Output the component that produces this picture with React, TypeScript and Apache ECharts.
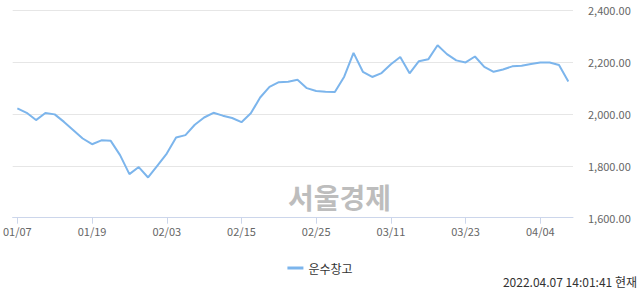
import React, { useEffect, useRef } from "react";
import * as echarts from "echarts";

const categories: string[] = [
  "01/07", "01/10", "01/11", "01/12", "01/13", "01/14", "01/17", "01/18", "01/19", "01/20",
  "01/21", "01/24", "01/25", "01/26", "01/27", "01/28", "02/03", "02/04", "02/07", "02/08",
  "02/09", "02/10", "02/11", "02/14", "02/15", "02/16", "02/17", "02/18", "02/21", "02/22",
  "02/23", "02/24", "02/25", "02/28", "03/02", "03/03", "03/04", "03/07", "03/08", "03/10",
  "03/11", "03/14", "03/15", "03/16", "03/17", "03/18", "03/21", "03/22", "03/23", "03/24",
  "03/25", "03/28", "03/29", "03/30", "03/31", "04/01", "04/04", "04/05", "04/06", "04/07",
];

const values: number[] = [
  2021, 2004, 1976, 2003, 1998, 1969, 1937, 1905, 1883, 1898,
  1896, 1841, 1768, 1795, 1755, 1801, 1847, 1909, 1918, 1958,
  1986, 2004, 1993, 1984, 1968, 2002, 2063, 2104, 2122, 2124,
  2131, 2099, 2088, 2085, 2084, 2143, 2235, 2162, 2142, 2157,
  2191, 2219, 2156, 2203, 2210, 2264, 2230, 2206, 2198, 2221,
  2181, 2162, 2171, 2183, 2185, 2192, 2198, 2198, 2188, 2125,
];

const seriesName = "운수창고";
const yTicks: number[] = [1600, 1800, 2000, 2200, 2400];
const watermark = "서울경제";
const timestamp = "2022.04.07 14:01:41 현재";

export default function App() {
  const ref = useRef<HTMLDivElement>(null);
  useEffect(() => {
    if (!ref.current) return;
    const chart = echarts.init(ref.current, undefined, { renderer: "svg" });
    const font = "'Noto Sans CJK KR', 'Noto Sans', sans-serif";
    chart.setOption({
      animation: false,
      backgroundColor: "#ffffff",
      textStyle: { fontFamily: font },
      grid: { left: 10, right: 67, top: 10, bottom: 76.3, containLabel: false },
      xAxis: {
        type: "category",
        data: categories,
        boundaryGap: true,
        axisLine: { lineStyle: { color: "#ccd6eb", width: 1 } },
        axisTick: {
          show: true,
          alignWithLabel: true,
          interval: 7,
          length: 6,
          lineStyle: { color: "#ccd6eb" },
        },
        axisLabel: {
          interval: 7,
          color: "#666666",
          fontSize: 11,
          margin: 8,
          fontFamily: font,
        },
        splitLine: { show: false },
      },
      yAxis: {
        type: "value",
        position: "right",
        min: yTicks[0],
        max: yTicks[yTicks.length - 1],
        interval: 200,
        axisLine: { show: false },
        axisTick: { show: false },
        axisLabel: {
          color: "#666666",
          fontSize: 11,
          margin: 15,
          align: "left",
          fontFamily: font,
          formatter: (v: number) =>
            v.toLocaleString("en-US", { minimumFractionDigits: 2, maximumFractionDigits: 2 }),
        },
        splitLine: { lineStyle: { color: "#e6e6e6", width: 1 } },
      },
      legend: {
        data: [seriesName],
        left: "center",
        top: 257,
        itemWidth: 16,
        itemHeight: 3,
        itemGap: 5,
        icon: "rect",
        textStyle: { color: "#333333", fontSize: 12, fontFamily: font },
      },
      graphic: [
        {
          type: "text",
          left: 288,
          top: 183,
          z: 0,
          style: {
            text: watermark,
            fill: "#bdbdbd",
            font: "bold 28px 'Noto Sans CJK KR', sans-serif",
          },
        },
        {
          type: "text",
          right: 3,
          top: 275,
          style: {
            text: timestamp,
            fill: "#333333",
            font: "12px 'Noto Sans CJK KR', sans-serif",
          },
        },
      ],
      series: [
        {
          name: seriesName,
          type: "line",
          data: values,
          showSymbol: false,
          symbol: "none",
          z: 5,
          lineStyle: { color: "#7cb5ec", width: 2 },
          itemStyle: { color: "#7cb5ec" },
        },
      ],
    });
    return () => chart.dispose();
  }, []);
  return (
    <div
      ref={ref}
      style={{ position: "fixed", left: 0, top: 0, width: 640, height: 294 }}
    />
  );
}
